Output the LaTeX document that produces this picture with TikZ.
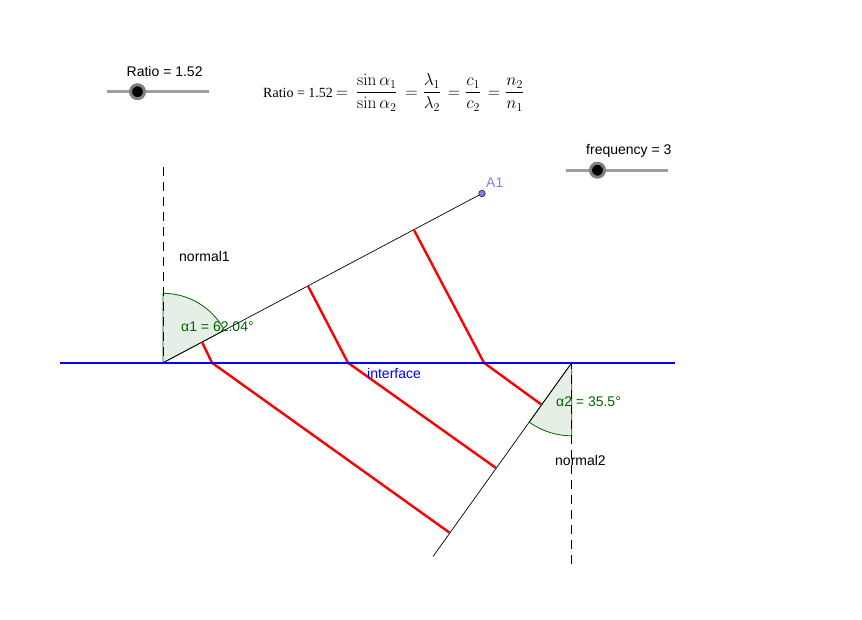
\documentclass[tikz,border=0pt]{standalone}
\usepackage{amsmath}
\usepackage[no-math]{fontspec}
\setmainfont{Liberation Sans}
\newfontfamily\formulafont{Liberation Serif}
\definecolor{anglegreen}{rgb}{0,0.39,0}
\definecolor{pointblue}{rgb}{0.49,0.49,1}
\definecolor{slidergray}{gray}{0.62}
\tikzset{
	lbl/.style={inner sep=0pt, anchor=west, font=\fontsize{14}{16}\selectfont},
	ray/.style={line width=0.7pt, black},
	normalline/.style={line width=0.8pt, black, dash pattern=on 9pt off 6pt},
	wave/.style={line width=2.4pt, red, line join=round},
	sector/.style={draw=anglegreen, line width=0.8pt, fill=anglegreen, fill opacity=0.1},
}

\newcommand{\pslider}[4]{
	\pgfmathsetmacro{\PSxa}{#2}
	\pgfmathsetmacro{\PSxb}{#2+102}
	\pgfmathsetmacro{\PSk}{#2+#4}
	\coordinate (#1a) at (\PSxa, #3);
	\coordinate (#1b) at (\PSxb, #3);
	\draw[color=slidergray, line width=2.8pt] (#1a) -- (#1b);
	\node[circle, fill=black, draw=gray, line width=3pt, minimum size=14pt, inner sep=0pt] (#1k) at (\PSk, #3) {};
}

\begin{document}
\begin{tikzpicture}[x=1pt, y=-1pt]
\useasboundingbox (0,0) rectangle (862,619);

\coordinate (ifaceL) at (60,362.8);
\coordinate (ifaceR) at (675,362.8);
\coordinate (origA) at (163,362.8);
\coordinate (origB) at (571.7,362.8);
\coordinate (normalAtop) at (163,167);
\coordinate (normalBend) at (571.7,568);
\coordinate (rayBend) at (433,556.5);

% angle sectors (y axis points down here)
\path[sector] (origA) -- (163,293.3) arc[start angle=-90, end angle=-27.96, radius=69.5] -- cycle;
\path[sector] (origB) -- (571.7,435.8) arc[start angle=90, end angle=125.6, radius=73] -- cycle;

\draw[normalline] (normalAtop) -- (origA);
\draw[normalline, dash phase=3pt] (origB) -- (normalBend);

\node[circle, fill=pointblue, draw=black, line width=0.5pt, minimum size=6.5pt, inner sep=0pt] (ptA) at (482,193.5) {};
\draw[ray] (origA) -- (ptA);
\draw[ray] (origB) -- (rayBend);

% wave fronts
\coordinate (wAa) at (202,342);
\coordinate (wAb) at (212,362.8);
\coordinate (wAc) at (450,533);
\coordinate (wBa) at (308,286);
\coordinate (wBb) at (348,362.8);
\coordinate (wBc) at (496,468);
\coordinate (wCa) at (414,230);
\coordinate (wCb) at (484,362.8);
\coordinate (wCc) at (542,405);
\draw[wave] (wAa) -- (wAb) -- (wAc);
\draw[wave] (wBa) -- (wBb) -- (wBc);
\draw[wave] (wCa) -- (wCb) -- (wCc);

\draw[color=blue, line width=2.2pt] (ifaceL) -- (ifaceR);

% sliders
\pslider{ratio}{107}{91.7}{30.5}
\pslider{freq}{566}{170.2}{31.5}
\node[lbl] (ratioLbl) at (126.5,71.5) {Ratio = 1.52};
\node[lbl] (freqLbl) at (586,151) {frequency = 3};

\node[lbl] (normalAlbl) at (179,256) {normal1};
\node[lbl] (normalBlbl) at (555,460) {normal2};
\node[lbl, text=blue] (ifaceLbl) at (367,373.5) {interface};
\node[lbl, text=anglegreen] (angAlbl) at (181,327) {α1 = 62.04°};
\node[lbl, text=anglegreen] (angBlbl) at (556,401.5) {α2 = 35.5°};
\node[lbl, text=pointblue] (ptAlbl) at (486,182.5) {A1};

\node[inner sep=0pt, anchor=west, font=\fontsize{14}{16}\selectfont] (formula) at (263,92.5) {{\formulafont Ratio = 1.52}\fontsize{17.5}{20}\selectfont$\,=\,\dfrac{\sin\alpha_1}{\sin\alpha_2}\,=\dfrac{\lambda_1}{\lambda_2}\mskip2mu=\dfrac{c_1}{c_2}\mskip2mu=\dfrac{n_2}{n_1}$};
\end{tikzpicture}
\end{document}
